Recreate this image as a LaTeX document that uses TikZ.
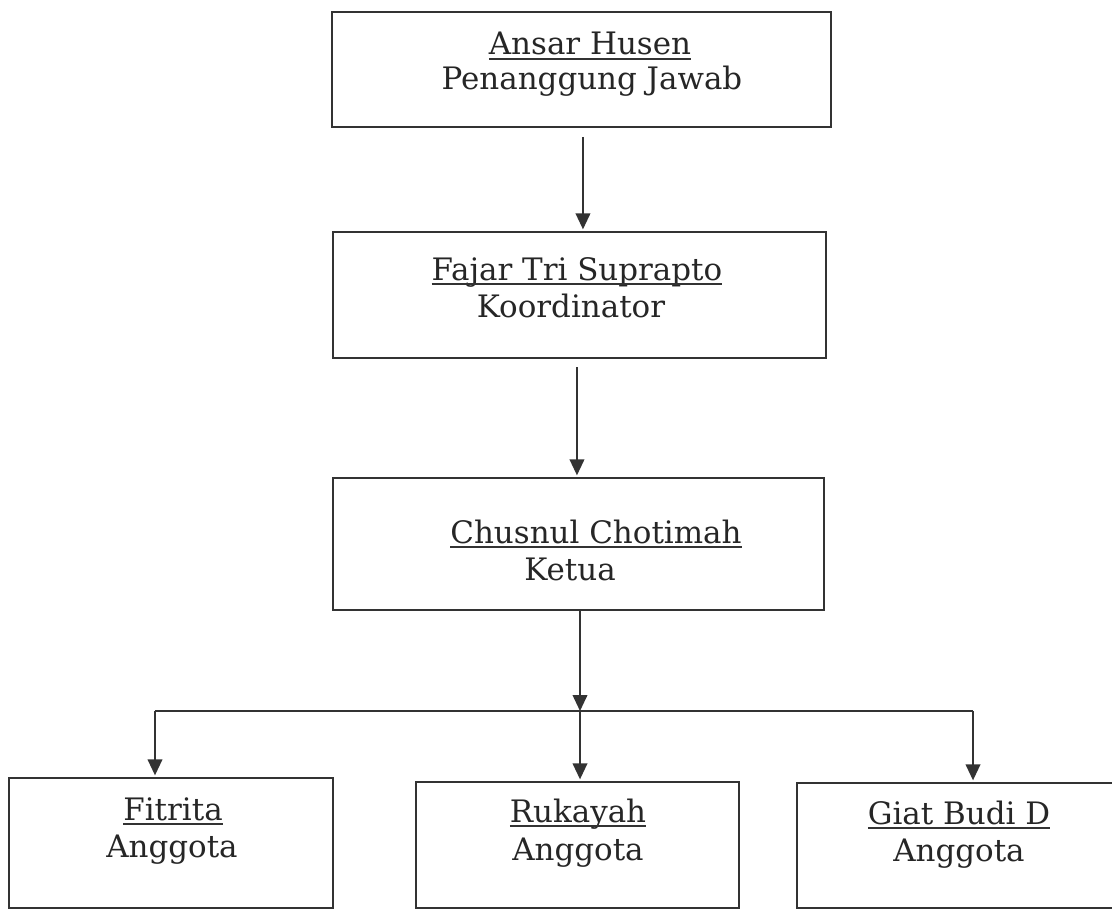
\documentclass[tikz,border=0pt]{standalone}
\usepackage{fontspec}
\setmainfont{DejaVu Serif}
\usetikzlibrary{arrows.meta}
\definecolor{ink}{gray}{0.2}

\begin{document}
\begin{tikzpicture}[x=0.75pt,y=-0.75pt,
 every node/.style={inner sep=0pt,outer sep=0pt},
 orgbox/.style={draw=ink,line width=1.4pt,rectangle},
 txt/.style={anchor=base,font=\fontsize{23.2}{28}\selectfont,text=black!85},
 arr/.style={draw=ink,line width=1.3pt,-{Triangle[length=12pt,width=11pt]}},
 uline/.style={draw=ink,line width=1.2pt}]
\useasboundingbox (0,0) rectangle (1112,909);
\clip (0,0) rectangle (1112,909);
% kotak
\node[orgbox,minimum width=374.25pt,minimum height=86.25pt] (jawab) at (581.5,69.5) {};
\node[orgbox,minimum width=369.75pt,minimum height=94.5pt] (koord) at (579.5,295) {};
\node[orgbox,minimum width=368.25pt,minimum height=99pt] (ketua) at (578.5,544) {};
\node[orgbox,minimum width=243pt,minimum height=97.5pt] (agt1) at (171,843) {};
\node[orgbox,minimum width=242.25pt,minimum height=94.5pt] (agt2) at (577.5,845) {};
\node[orgbox,minimum width=249.75pt,minimum height=93.75pt] (agt3) at (963.5,845.5) {};
% teks
\node[txt] (jawab-nm) at (590,55) {Ansar Husen};
\node[txt] (jawab-rl) at (592,90) {Penanggung Jawab};
\node[txt] (koord-nm) at (577,280) {Fajar Tri Suprapto};
\node[txt] (koord-rl) at (571,317) {Koordinator};
\node[txt] (ketua-nm) at (596,543) {Chusnul Chotimah};
\node[txt] (ketua-rl) at (570,580) {Ketua};
\node[txt] (agt1-nm) at (173,820) {Fitrita};
\node[txt] (agt1-rl) at (172,857) {Anggota};
\node[txt] (agt2-nm) at (578,822) {Rukayah};
\node[txt] (agt2-rl) at (578,860) {Anggota};
\node[txt] (agt3-nm) at (959,824) {Giat Budi D};
\node[txt] (agt3-rl) at (959,861) {Anggota};
\foreach \n in {jawab,koord,ketua,agt1,agt2,agt3}
  \draw[uline] ([yshift=-3pt]\n-nm.base west) -- ([yshift=-3pt]\n-nm.base east);
% garis
\coordinate (bus) at (580,711);
\coordinate (busL) at (155,711);
\coordinate (busR) at (973,711);
\draw[arr,shorten <=7.5pt,shorten >=2pt] ([xshift=1.1pt]jawab.south) -- ([xshift=1.1pt]jawab.south |- koord.north);
\draw[arr,shorten <=7pt,shorten >=2pt] ([xshift=-1.9pt]koord.south) -- ([xshift=-1.9pt]koord.south |- ketua.north);
\draw[arr] (ketua.south -| bus) -- (bus);
\draw[draw=ink,line width=1.3pt] (busL) -- (busR);
\draw[arr,shorten >=2pt] (busL) -- (busL |- agt1.north);
\draw[arr,shorten >=2pt] (bus) -- (bus |- agt2.north);
\draw[arr,shorten >=2pt] (busR) -- (busR |- agt3.north);
\end{tikzpicture}
\end{document}
